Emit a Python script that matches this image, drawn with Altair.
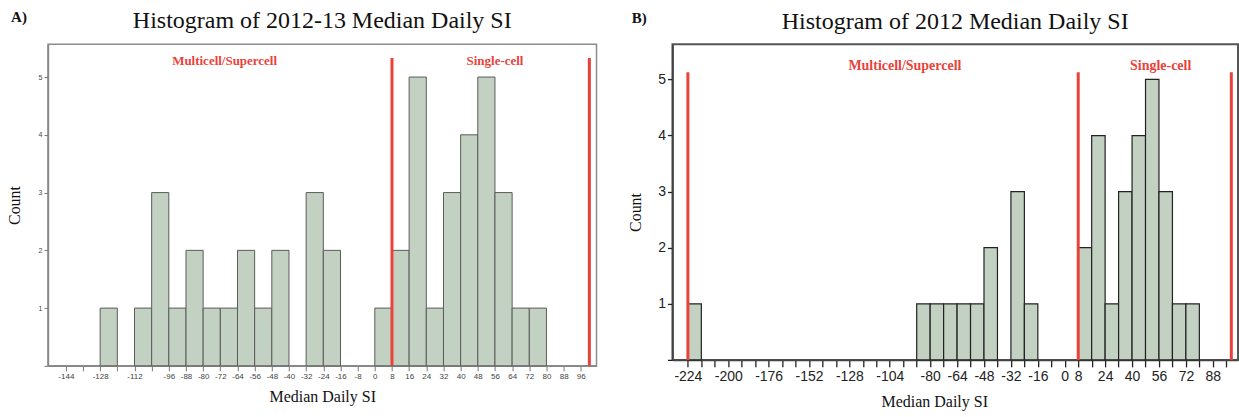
import altair as alt
import pandas as pd

# ---------------- data ----------------
bin_width = 8

# Panel A: 2012-13
a_bin_start = [-128, -112, -104, -96, -88, -80, -72, -64, -56, -48, -32, -24,
               0, 8, 16, 24, 32, 40, 48, 56, 64, 72]
a_counts = [1, 1, 3, 1, 2, 1, 1, 2, 1, 2, 3, 2,
            1, 2, 5, 1, 3, 4, 5, 3, 1, 1]
a_tick_values = [-144, -136, -128, -120, -112, -104, -96, -88, -80, -72, -64, -56, -48,
                 -40, -32, -24, -16, -8, 0, 8, 16, 24, 32, 40, 48, 56, 64, 72, 80, 88, 96]
a_tick_labels = [-144, -128, -112, -96, -88, -80, -72, -64, -56, -48, -40, -32, -24,
                 -16, -8, 0, 8, 16, 24, 32, 40, 48, 56, 64, 72, 80, 88, 96]
a_cutoffs = [8, 100]
a_region_names = ["Multicell/Supercell", "Single-cell"]
a_region_x = [-70, 56]

# Panel B: 2012
b_bin_start = [-224, -88, -80, -72, -64, -56, -48, -32, -24,
               8, 16, 24, 32, 40, 48, 56, 64, 72]
b_counts = [1, 1, 1, 1, 1, 1, 2, 3, 1,
            2, 4, 1, 3, 4, 5, 3, 1, 1]
b_tick_values = [-224, -216, -208, -200, -192, -184, -176, -168, -160, -152, -144, -136,
                 -128, -120, -112, -104, -96, -88, -80, -72, -64, -56, -48, -40, -32,
                 -24, -16, -8, 0, 8, 16, 24, 32, 40, 48, 56, 64, 72, 80, 88, 96]
b_tick_labels = [-224, -200, -176, -152, -128, -104, -80, -64, -48, -32, -16,
                 0, 8, 24, 40, 56, 72, 88]
b_cutoffs = [-224, 8, 99]
b_region_names = ["Multicell/Supercell", "Single-cell"]
b_region_x = [-95, 57]

count_ticks = [0, 1, 2, 3, 4, 5]

SERIF = "Liberation Serif"
SANS = "Liberation Sans"
RED = "#e8433b"
FILL = "#c3d1c3"
XTITLE = "Median Daily SI"
YTITLE = "Count"


def panel(title, tag, starts, counts, tick_values, tick_labels, cutoffs, region_names,
          region_x, xdom, ymax, rule_top, text_y, w, h, s):
    xscale = alt.Scale(domain=xdom, nice=False, zero=False)
    yscale = alt.Scale(domain=[0, ymax], nice=False, zero=True)
    label_expr = ("indexof(%s, datum.value) >= 0 ? '' + datum.value : ''"
                  % str(tick_labels))
    xaxis_kw = dict(values=tick_values, labelExpr=label_expr,
                    title=XTITLE, grid=False,
                    tickSize=s["xtick"], tickColor=s["tick_color"],
                    tickWidth=s["tick_w"],
                    domainColor=s["dom_color"], domainWidth=s["dom_w"],
                    labelFont=SANS, labelFontSize=s["xlab"],
                    labelColor=s["lab_color"], labelPadding=s["xlabpad"],
                    labelOverlap=False, labelFlush=False,
                    titleFont=SERIF, titleFontSize=s["xtitle"],
                    titleFontWeight="normal", titleColor="#111",
                    titlePadding=s["xtitlepad"])
    if s.get("xtitle_x") is not None:
        xaxis_kw["titleX"] = s["xtitle_x"]
    yaxis_kw = dict(values=count_ticks,
                    labelExpr="datum.value == 0 ? '' : '' + datum.value",
                    title=YTITLE, grid=False,
                    tickSize=s["ytick"], tickColor=s["tick_color"],
                    tickWidth=s["tick_w"],
                    domainColor=s["dom_color"], domainWidth=s["dom_w"],
                    labelFont=SANS, labelFontSize=s["ylab"],
                    labelColor=s["lab_color"], labelPadding=2,
                    titleFont=SERIF, titleFontSize=s["ytitle"],
                    titleFontWeight="normal", titleColor="#111",
                    titlePadding=s["ytitlepad"])
    if s.get("ytitle_y") is not None:
        yaxis_kw["titleY"] = s["ytitle_y"]
    xaxis = alt.Axis(**xaxis_kw)
    yaxis = alt.Axis(**yaxis_kw)

    def xenc():
        return alt.X("start:Q", scale=xscale, axis=xaxis)

    def yenc():
        return alt.Y("count:Q", scale=yscale, axis=yaxis)

    bars_df = pd.DataFrame({"start": starts, "count": counts})
    bars = alt.Chart(bars_df).transform_calculate(
        end="datum.start + %d" % bin_width
    ).mark_bar(fill=FILL, stroke=s["bar_stroke"], strokeWidth=s["bar_sw"],
               orient="vertical").encode(
        x=xenc(), x2="end:Q", y=yenc(), y2=alt.datum(0),
    )

    rules_df = pd.DataFrame({"start": cutoffs, "count": [rule_top] * len(cutoffs)})
    rules = alt.Chart(rules_df).mark_rule(color=RED, strokeWidth=3).encode(
        x=xenc(), y=yenc(), y2=alt.datum(0),
    )

    text_df = pd.DataFrame({"name": region_names, "start": region_x,
                            "count": [text_y] * len(region_names)})
    texts = alt.Chart(text_df).mark_text(font=SERIF, fontWeight="bold", color=RED,
                                         fontSize=s["red_fs"]).encode(
        x=xenc(), y=yenc(), text="name:N",
    )

    title_df = pd.DataFrame({"t": [title]})
    title_mark = alt.Chart(title_df).mark_text(font=SERIF, fontSize=24, color="#111",
                                               align="center",
                                               baseline="middle").encode(
        x=alt.value(w / 2), y=alt.value(s["title_y"]), text="t:N")

    return alt.layer(bars, rules, texts, title_mark).properties(
        width=w, height=h,
        title=alt.TitleParams(text=tag, font=SERIF, fontSize=15, fontWeight="bold",
                              color="#111", anchor="start", frame="bounds",
                              offset=s["tag_off"], dx=s["tag_dx"]),
        view=alt.ViewBackground(stroke=s["frame"], strokeWidth=s["frame_w"]),
    )


style_a = dict(bar_stroke="#5a5a5a", bar_sw=1, xtick=5, ytick=4, tick_color="#777",
               tick_w=1, dom_color="#888", dom_w=1.5, xlab=8, ylab=7, lab_color="#444",
               xlabpad=2, xtitle=16, xtitlepad=8, ytitle=16, ytitlepad=16, red_fs=13,
               title_y=-23, tag_off=-16, tag_dx=5, frame="#8c8c8c", frame_w=1.5)
style_b = dict(bar_stroke="#222", bar_sw=1.2, xtick=7, ytick=5, tick_color="#222",
               tick_w=1.3, dom_color="#444", dom_w=1.8, xlab=14, ylab=14, lab_color="#222",
               xlabpad=3, xtitle=16, xtitlepad=10, ytitle=16, ytitlepad=14, red_fs=14,
               title_y=-22, tag_off=-16, tag_dx=4, frame="#555", frame_w=2,
               xtitle_x=262, ytitle_y=168)

chart_a = panel("Histogram of 2012-13 Median Daily SI", "A)", a_bin_start, a_counts,
                a_tick_values, a_tick_labels, a_cutoffs, a_region_names, a_region_x,
                [-150, 101], 5.57, 5.33, 5.28, 549, 322, style_a)
chart_b = panel("Histogram of 2012 Median Daily SI", "B)", b_bin_start, b_counts,
                b_tick_values, b_tick_labels, b_cutoffs, b_region_names, b_region_x,
                [-230.2, 100], 5.63, 5.13, 5.24, 566, 316, style_b)

chart = alt.hconcat(chart_a, chart_b, spacing=29).properties(
    padding={"left": 5, "top": 8, "right": 0, "bottom": 0},
    background="white",
).configure_title(fontWeight="normal")

chart.save("out.html", embed_options={"renderer": "svg", "actions": False})
